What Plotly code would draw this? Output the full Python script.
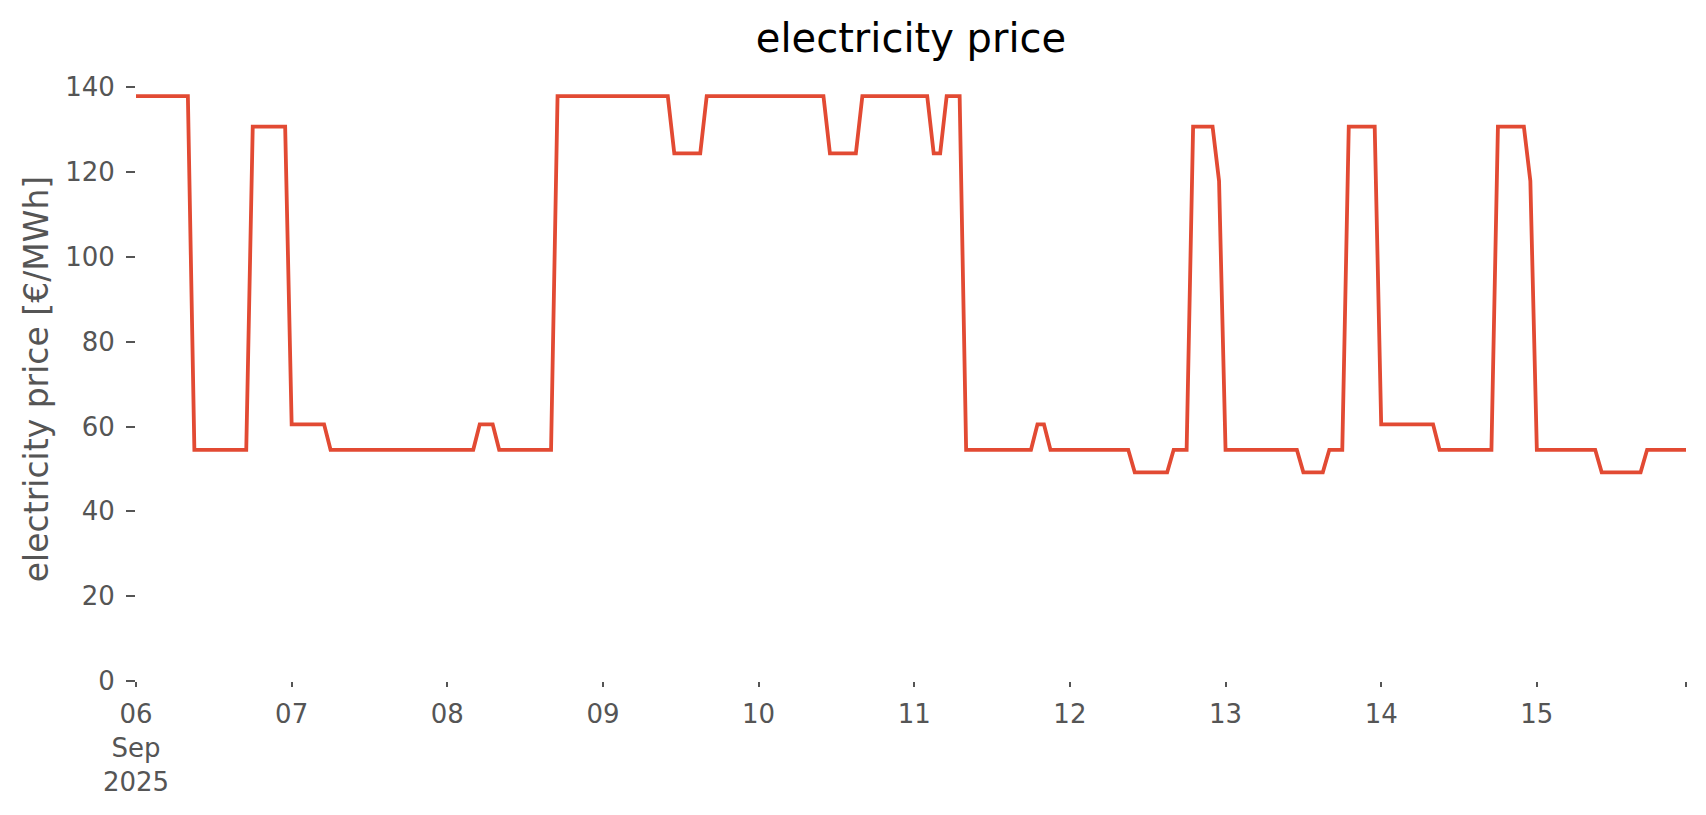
import pandas as pd
import plotly.graph_objects as go

# hourly electricity price [€/MWh], one list per day (hours 00..23)
day_06 = [137.9]*9 + [54.5]*9 + [130.7]*6
day_07 = [60.5]*6 + [54.5]*18
day_08 = [54.5]*5 + [60.5]*3 + [54.5]*9 + [137.9]*7
day_09 = [137.9]*11 + [124.4]*5 + [137.9]*8
day_10 = [137.9]*11 + [124.4]*5 + [137.9]*8
day_11 = [137.9]*3 + [124.4]*2 + [137.9]*3 + [54.5]*11 + [60.5]*2 + [54.5]*3
day_12 = [54.5]*10 + [49.2]*6 + [54.5]*3 + [130.7]*4 + [117.9]
day_13 = [54.5]*12 + [49.2]*4 + [54.5]*3 + [130.7]*5
day_14 = [60.5]*9 + [54.5]*9 + [130.7]*5 + [117.9]
day_15 = [54.5]*10 + [49.2]*7 + [54.5]*7

prices = day_06 + day_07 + day_08 + day_09 + day_10 + day_11 + day_12 + day_13 + day_14 + day_15
times = pd.date_range("2025-09-06 00:00", periods=len(prices), freq="h")

tick_vals = list(pd.date_range("2025-09-06", "2025-09-15", freq="D")) + [times[-1]]
tick_text = ["06<br>Sep<br>2025", "07", "08", "09", "10", "11", "12", "13", "14", "15", ""]
y_ticks = [0, 20, 40, 60, 80, 100, 120, 140]

fig = go.Figure()
fig.add_trace(go.Scatter(x=times, y=prices, mode="lines",
                         line=dict(color="#E24A33", width=3.8), showlegend=False))

W, H = 1706, 815
fig.update_layout(
    width=W, height=H,
    margin=dict(l=128, r=28, t=69, b=142),
    paper_bgcolor="white", plot_bgcolor="white",
    font=dict(family="DejaVu Sans", color="#555555", size=26),
    title=dict(text="electricity price", x=0.5, xanchor="center", xref="paper",
               y=1 - 30 / H, yref="container", yanchor="middle",
               font=dict(size=40, color="black", family="DejaVu Sans")),
)
fig.update_xaxes(
    range=[times[0], times[-1]], showgrid=False, zeroline=False, showline=False,
    tickmode="array", tickvals=tick_vals, ticktext=tick_text,
    ticks="outside", ticklen=5, tickwidth=2, tickcolor="#555555",
    ticklabelstandoff=5,
    tickfont=dict(size=26, color="#555555"),
)
fig.update_yaxes(
    range=[0, 142.4], showgrid=False, zeroline=False, showline=False,
    tickmode="array", tickvals=y_ticks,
    ticks="outside", ticklen=9, tickwidth=2, tickcolor="#555555",
    ticklabelstandoff=6,
    tickfont=dict(size=26, color="#555555"),
    title=dict(text="electricity price [€/MWh]", standoff=6,
               font=dict(size=33, color="#555555")),
)

fig.write_html("out.html")
